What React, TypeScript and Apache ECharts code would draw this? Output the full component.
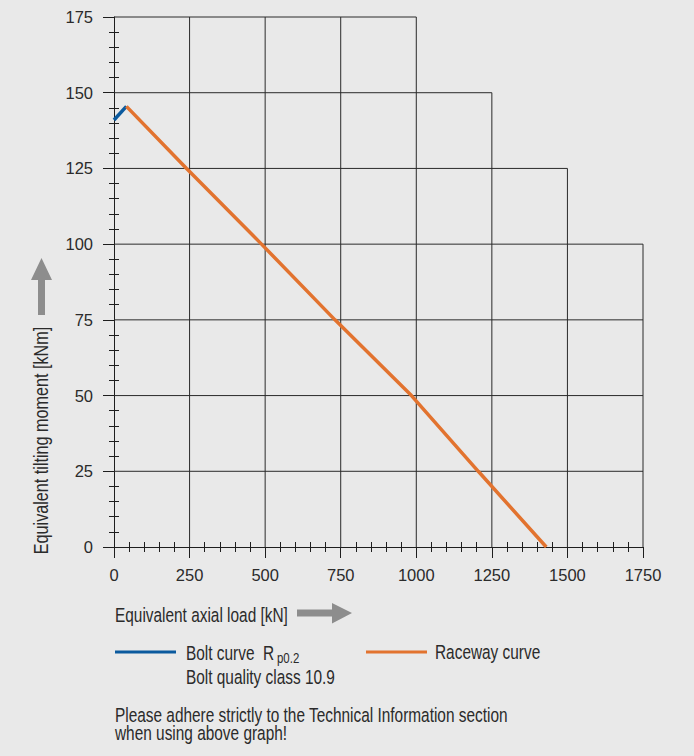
import React, { useEffect, useRef } from "react";
import * as echarts from "echarts";

const xTicks = [0, 250, 500, 750, 1000, 1250, 1500, 1750];
const yTicks = [0, 25, 50, 75, 100, 125, 150, 175];
// top of each vertical grid line (stepped grid)
const gridTopAtX = [175, 175, 175, 175, 175, 150, 125, 100];
// right end of each horizontal grid line
const gridEndAtY = [1750, 1750, 1750, 1750, 1750, 1500, 1250, 1000];

const boltCurve = [
  [0, 141],
  [41, 145.5],
];
const racewayCurve = [
  [41, 145.5],
  [240, 125],
  [488, 100],
  [731, 75],
  [984, 50],
  [1205, 25],
  [1430, 0],
];

const xTitle = "Equivalent axial load [kN]";
const yTitle = "Equivalent tilting moment [kNm]";
const legendBolt = "Bolt curve  R";
const legendBoltSub = "p0.2";
const legendBolt2 = "Bolt quality class 10.9";
const legendRaceway = "Raceway curve";
const note1 = "Please adhere strictly to the Technical Information section";
const note2 = "when using above graph!";

const BG = "#e9e9e9";
const AX = "#1e1e1e";
const GRID = "#2a2a2a";
const TXT = "#2b2b2b";
const BLUE = "#0b5a9e";
const ORANGE = "#e2732f";
const ARROW = "#8d8d8d";
const FONT = "'Liberation Sans', Arial, sans-serif";
const FS = 19.5;
const SX = 0.79;

const gridLines: number[][] = [];
xTicks.forEach((x, i) => {
  if (i > 0) gridLines.push([x, 0, x, gridTopAtX[i]]);
});
yTicks.forEach((y, i) => {
  if (i > 0) gridLines.push([0, y, gridEndAtY[i], y]);
});

const labelFmt = (v: number) => String(v);

const txt = (text: string, x: number, y: number, extra: any = {}, size = FS, sx = SX) => ({
  type: "text",
  x,
  y,
  scaleX: sx,
  ...extra,
  style: { text, fontSize: size, fontFamily: FONT, fill: TXT, align: "left", verticalAlign: "middle", ...(extra.style || {}) },
});

const option: any = {
  animation: false,
  backgroundColor: BG,
  grid: { left: 114, top: 17, width: 529, height: 530, containLabel: false },
  xAxis: [
    {
      type: "value",
      min: 0,
      max: 1750,
      interval: 250,
      position: "bottom",
      splitLine: { show: false },
      axisLine: { show: true, lineStyle: { color: AX, width: 1 } },
      axisTick: { show: true, inside: false, length: 11, lineStyle: { color: AX, width: 1 } },
      minorTick: { show: true, splitNumber: 5, length: 5, lineStyle: { color: AX, width: 1 } },
      axisLabel: { margin: 28, verticalAlign: "middle", fontSize: 16.5, color: TXT, fontFamily: FONT, formatter: labelFmt },
    },
    {
      type: "value",
      min: 0,
      max: 1750,
      interval: 250,
      position: "bottom",
      offset: 0,
      splitLine: { show: false },
      axisLine: { show: false },
      axisTick: { show: false, inside: true },
      minorTick: { show: true, splitNumber: 5, length: 5, lineStyle: { color: AX, width: 1 } },
      axisLabel: { show: false },
    },
  ],
  yAxis: [
    {
      type: "value",
      min: 0,
      max: 175,
      interval: 25,
      position: "left",
      splitLine: { show: false },
      axisLine: { show: true, lineStyle: { color: AX, width: 1 } },
      axisTick: { show: true, inside: false, length: 11, lineStyle: { color: AX, width: 1 } },
      minorTick: { show: true, splitNumber: 5, length: 5, lineStyle: { color: AX, width: 1 } },
      axisLabel: { margin: 21, fontSize: 16.5, color: TXT, fontFamily: FONT, formatter: labelFmt },
    },
    {
      type: "value",
      min: 0,
      max: 175,
      interval: 25,
      position: "left",
      offset: 0,
      splitLine: { show: false },
      axisLine: { show: false },
      axisTick: { show: false, inside: true },
      minorTick: { show: true, splitNumber: 5, length: 5, lineStyle: { color: AX, width: 1 } },
      axisLabel: { show: false },
    },
  ],
  series: [
    {
      type: "custom",
      name: "grid",
      xAxisIndex: 0,
      yAxisIndex: 0,
      silent: true,
      z: 1,
      dimensions: ["x1", "y1", "x2", "y2"],
      encode: { x: [0, 2], y: [1, 3] },
      data: gridLines,
      renderItem: (_params: any, api: any) => {
        const p1 = api.coord([api.value(0), api.value(1)]);
        const p2 = api.coord([api.value(2), api.value(3)]);
        return {
          type: "line",
          shape: { x1: p1[0], y1: p1[1], x2: p2[0], y2: p2[1] },
          style: { stroke: GRID, lineWidth: 1 },
        };
      },
    },
    {
      type: "line",
      name: "Bolt curve",
      xAxisIndex: 0,
      yAxisIndex: 0,
      data: boltCurve,
      showSymbol: false,
      symbol: "none",
      z: 5,
      lineStyle: { color: BLUE, width: 3.5 },
    },
    {
      type: "line",
      name: "Raceway curve",
      xAxisIndex: 0,
      yAxisIndex: 0,
      data: racewayCurve,
      showSymbol: false,
      symbol: "none",
      z: 5,
      lineStyle: { color: ORANGE, width: 3.5 },
    },
  ],
  graphic: [
    // x title + arrow
    txt(xTitle, 115, 615),
    {
      type: "polygon",
      shape: {
        points: [
          [297, 609.5],
          [332, 609.5],
          [332, 603],
          [352, 613],
          [332, 623.5],
          [332, 616.5],
          [297, 616.5],
        ],
      },
      style: { fill: ARROW },
    },
    // y title + arrow
    txt(yTitle, 41, 440.5, { rotation: Math.PI / 2, style: { align: "center" } }, FS, 0.83),
    {
      type: "polygon",
      shape: {
        points: [
          [38, 315],
          [38, 280],
          [31, 280],
          [41.5, 258],
          [52, 280],
          [45, 280],
          [45, 315],
        ],
      },
      style: { fill: ARROW },
    },
    // legend
    {
      type: "line",
      shape: { x1: 115, y1: 652, x2: 176, y2: 652 },
      style: { stroke: BLUE, lineWidth: 3 },
    },
    txt(legendBolt, 186, 653),
    txt(legendBoltSub, 277, 658.5, {}, 14.5),
    txt(legendBolt2, 186, 677),
    {
      type: "line",
      shape: { x1: 366, y1: 652, x2: 427, y2: 652 },
      style: { stroke: ORANGE, lineWidth: 3 },
    },
    txt(legendRaceway, 435, 652),
    // note
    txt(note1, 115, 715),
    txt(note2, 115, 733),
  ],
};

export default function App() {
  const ref = useRef<HTMLDivElement>(null);
  useEffect(() => {
    document.body.style.margin = "0";
    const chart = echarts.init(ref.current as HTMLDivElement, null, { renderer: "svg" });
    chart.setOption(option);
    return () => {
      chart.dispose();
    };
  }, []);
  return <div ref={ref} style={{ width: 694, height: 756, background: BG }} />;
}
